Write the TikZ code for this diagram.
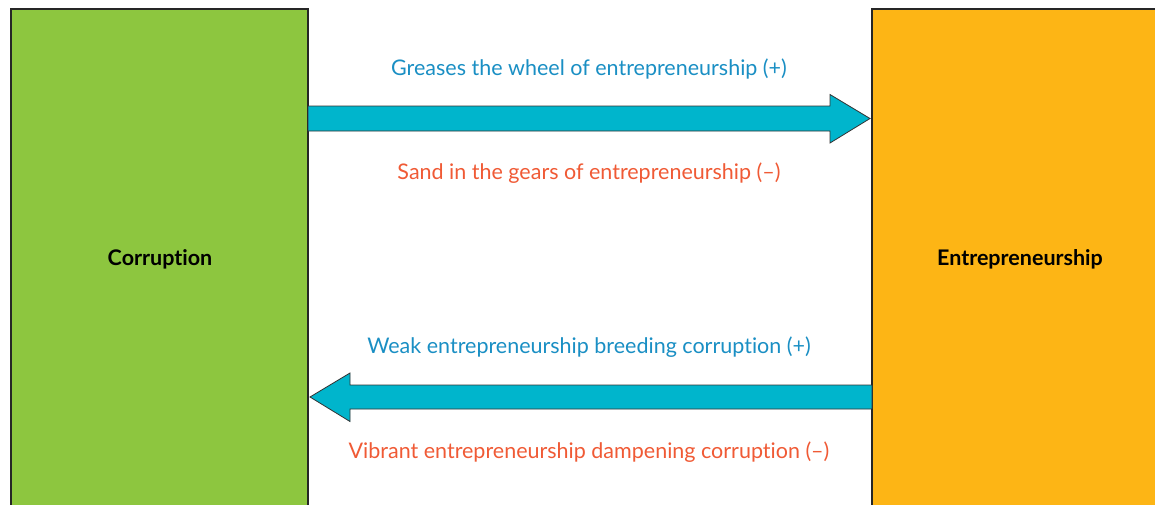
\documentclass[tikz,border=0pt]{standalone}
\usepackage{fontspec}
\setmainfont[Ligatures=NoCommon]{Lato}
\definecolor{cgreen}{HTML}{8DC63F}
\definecolor{corange}{HTML}{FDB515}
\definecolor{cteal}{HTML}{00B5CC}
\definecolor{cblue}{HTML}{1A8FC4}
\definecolor{cred}{HTML}{F05A35}
\begin{document}
\begin{tikzpicture}[x=1pt,y=-1pt,
  box/.style={draw=black!85,line width=1.6pt},
  arr/.style={draw=black!80,line width=0.8pt,fill=cteal},
  lab/.style={font=\fontsize{21.5}{24}\selectfont,inner sep=0pt},
  title/.style={font=\fontsize{21.5}{24}\selectfont\bfseries,inner sep=0pt}]
\useasboundingbox (0,0) rectangle (1155,504);
\fill[white] (0,0) rectangle (1155,504);
\path[box,fill=cgreen] (11,9) rectangle (308,510);
\path[box,fill=corange] (872,9) rectangle (1160,510);
\node[title] (corr) at (160,259) {Corruption};
\node[title] (entr) at (1020,259) {Entrepreneurship};
\path[arr] (308,106) -- (830,106) -- (830,94.5) -- (870,118.5) -- (830,143) -- (830,131) -- (308,131) -- cycle;
\path[arr] (872,385) -- (350,385) -- (350,373) -- (310,397) -- (350,421.5) -- (350,409) -- (872,409) -- cycle;
\node[lab,text=cblue] (t1) at (589,69.5) {Greases the wheel of entrepreneurship (+)};
\node[lab,text=cred] (t2) at (589,173.5) {Sand in the gears of entrepreneurship (\textendash)};
\node[lab,text=cblue] (t3) at (589,347.5) {Weak entrepreneurship breeding corruption (+)};
\node[lab,text=cred] (t4) at (589,452.5) {Vibrant entrepreneurship dampening corruption (\textendash)};
\end{tikzpicture}
\end{document}
